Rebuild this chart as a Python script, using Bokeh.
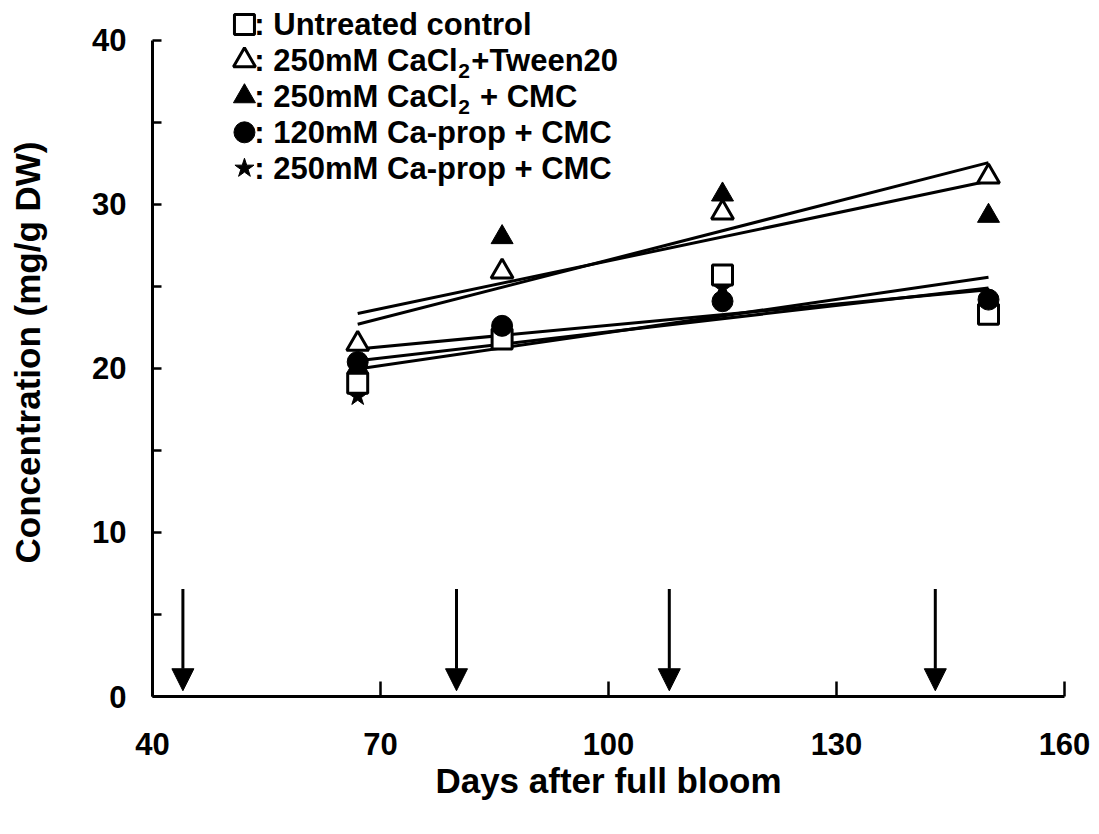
import numpy as np
from bokeh.plotting import figure
from bokeh.models import Range1d, FixedTicker, Arrow, NormalHead, ColumnDataSource
from bokeh.core.properties import value
from bokeh.embed import file_html
from bokeh.resources import INLINE

# ---- data ----
days = [67, 86, 115, 150]
untreated_control = [19.1, 21.8, 25.7, 23.3]
cacl2_tween20 = [21.5, 25.9, 29.5, 31.7]
cacl2_cmc = [20.1, 28.0, 30.6, 29.3]
caprop120_cmc = [20.4, 22.6, 24.1, 24.2]
caprop250_cmc = [18.3, 22.5, 24.9, 24.3]

spray_days = [44, 80, 108, 143]

x_ticks = [40, 70, 100, 130, 160]
y_ticks = [0, 10, 20, 30, 40]
y_minor_ticks = [5, 15, 25, 35]

legend_main = ["Untreated control", "250mM CaCl", "250mM CaCl",
               "120mM Ca-prop + CMC", "250mM Ca-prop + CMC"]
legend_sub = ["", "2", "2", "", ""]
legend_rest = ["", "+Tween20", "\u00a0+ CMC", "", ""]

FONT = value("Liberation Sans")

p = figure(width=1092, height=823,
           x_range=Range1d(40, 160), y_range=Range1d(0, 41.95),
           output_backend="svg", toolbar_location=None,
           min_border_left=152, min_border_right=28,
           min_border_top=8, min_border_bottom=127)
p.outline_line_color = None
p.grid.visible = False
p.background_fill_color = "white"

# axes
for ax in (p.xaxis, p.yaxis):
    ax.axis_line_width = 3
    ax.axis_line_color = "black"
    ax.major_tick_line_width = 2.5
    ax.major_tick_line_color = "black"
    ax.major_tick_out = 0
    ax.major_label_text_font = "Liberation Sans"
    ax.major_label_text_font_style = "bold"
    ax.major_label_text_font_size = "31px"
    ax.major_label_text_color = "black"
    ax.axis_label_text_font = "Liberation Sans"
    ax.axis_label_text_font_style = "bold"
    ax.axis_label_text_font_size = "35px"
    ax.axis_label_text_color = "black"

p.xaxis.ticker = FixedTicker(ticks=x_ticks)
p.xaxis.major_tick_in = 15
p.xaxis.minor_tick_line_color = None
p.xaxis.major_label_standoff = 36
p.xaxis.axis_label = "Days after full bloom"
p.xaxis.axis_label_standoff = 3

p.yaxis.ticker = FixedTicker(ticks=y_ticks, minor_ticks=y_minor_ticks)
p.yaxis.bounds = (0, 40)
p.yaxis.major_tick_in = 9
p.yaxis.minor_tick_in = 9
p.yaxis.minor_tick_out = 0
p.yaxis.minor_tick_line_width = 2.5
p.yaxis.minor_tick_line_color = "black"
p.yaxis.major_label_standoff = 26
p.yaxis.axis_label = "Concentration (mg/g DW)"
p.yaxis.axis_label_standoff = 42

# spray arrows
arrow_src = ColumnDataSource(dict(x=spray_days,
                                  y0=[6.55] * len(spray_days),
                                  y1=[0.35] * len(spray_days)))
p.add_layout(Arrow(end=NormalHead(size=22, fill_color="black", line_color="black"),
                   x_start="x", y_start="y0", x_end="x", y_end="y1",
                   source=arrow_src, line_width=3, line_color="black"))

# regression lines
series = [untreated_control, cacl2_tween20, cacl2_cmc, caprop120_cmc, caprop250_cmc]
for vals in series:
    coef = np.polyfit(days, vals, 1)
    xs = [days[0], days[-1]]
    p.line(xs, list(np.polyval(coef, xs)), line_width=3, line_color="black")

styles = [
    dict(marker="square", size=20, fill_color="white", line_color="black", line_width=3),
    dict(marker="triangle", size=22, fill_color="white", line_color="black", line_width=3),
    dict(marker="triangle", size=22, fill_color="black", line_color="black", line_width=1),
    dict(marker="circle", size=21, fill_color="black", line_color="black", line_width=1),
    dict(marker="star", size=20, fill_color="black", line_color="black", line_width=1),
]

draw_order = [4, 0, 1, 2, 3]
for i in draw_order:
    p.scatter(days, series[i], **styles[i])

# legend (manual, text with subscripts)
leg_x_marker = 52.1
leg_x_text = 53.4
leg_y = [40.97 - 2.19 * i for i in range(len(legend_main))]
for i in range(len(legend_main)):
    p.scatter([leg_x_marker], [leg_y[i]], **styles[i])
p.text(x=[leg_x_text] * len(legend_main), y=leg_y,
       text=[": " + t for t in legend_main],
       text_font=FONT, text_font_style="bold", text_font_size="31px",
       text_baseline="middle", text_align="left", text_color="black")
sub_idx = [i for i in range(len(legend_main)) if legend_sub[i]]
p.text(x=[leg_x_text] * len(sub_idx), y=[leg_y[i] for i in sub_idx],
       text=[legend_sub[i] for i in sub_idx], x_offset=204, y_offset=11,
       text_font=FONT, text_font_style="bold", text_font_size="21px",
       text_baseline="middle", text_align="left", text_color="black")
p.text(x=[leg_x_text] * len(sub_idx), y=[leg_y[i] for i in sub_idx],
       text=[legend_rest[i] for i in sub_idx], x_offset=217,
       text_font=FONT, text_font_style="bold", text_font_size="31px",
       text_baseline="middle", text_align="left", text_color="black")

open("out.html", "w").write(file_html(p, INLINE))
